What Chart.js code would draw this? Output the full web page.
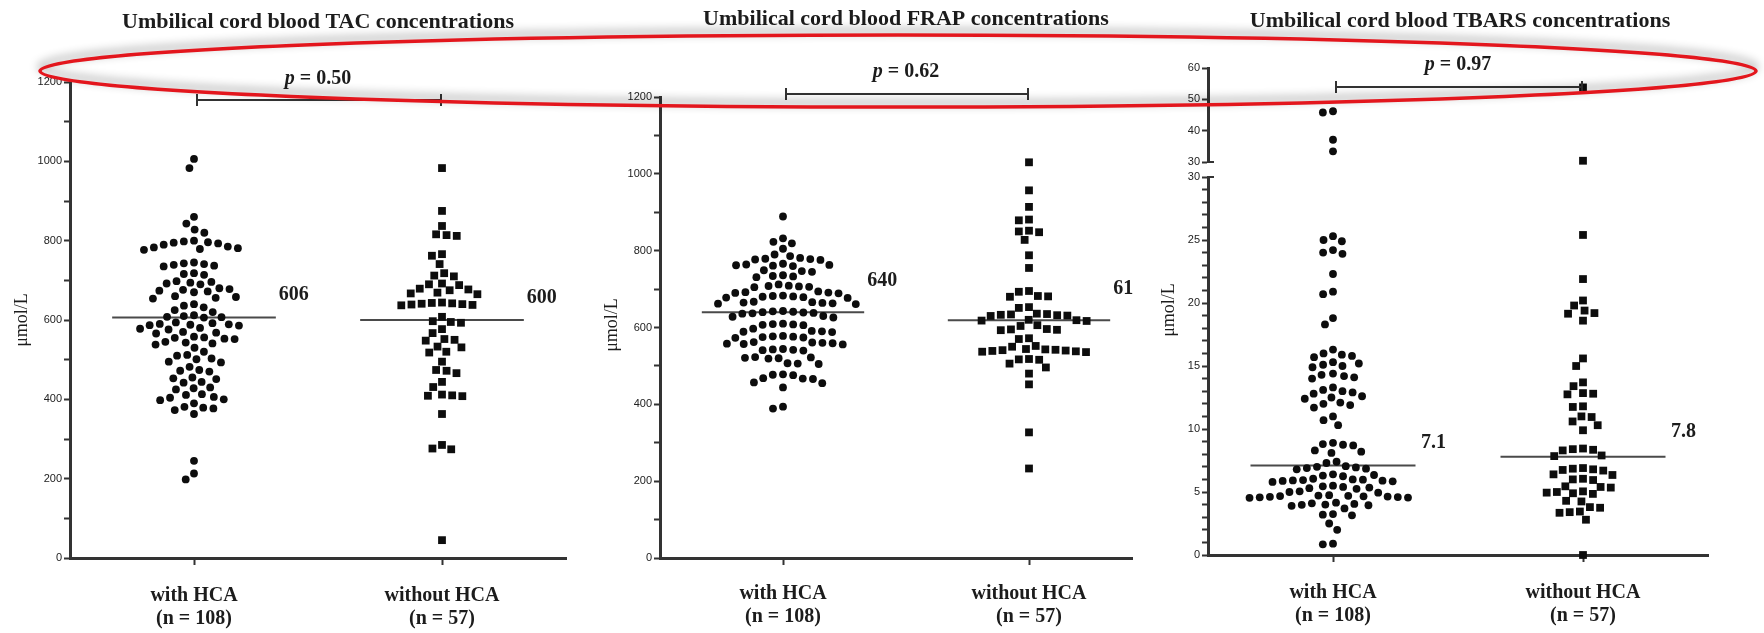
<!DOCTYPE html>
<html><head><meta charset="utf-8">
<script src="https://cdn.jsdelivr.net/npm/chart.js@4.4.1/dist/chart.umd.min.js"></script>
<style>
html,body{margin:0;padding:0;background:#fff;}
#wrap{position:relative;width:1764px;height:633px;overflow:hidden;background:#fff;}
canvas{position:absolute;left:0;top:0;}
#cover{position:absolute;left:1133px;top:0;width:631px;height:633px;background:#fff;}
</style></head><body>
<div id="wrap">
<canvas id="c1" width="1764" height="633"></canvas>
<canvas id="c2" width="1764" height="633"></canvas>
<div id="cover"></div>
<canvas id="c3a" width="1764" height="633"></canvas>
<canvas id="c3b" width="1764" height="633"></canvas>
<canvas id="ov" width="1764" height="633"></canvas>
</div>
<script>
// ---------------- DATA ----------------
const xLabels = [['with HCA', '(n = 108)'], ['without HCA', '(n = 57)']];
const titles = ['Umbilical cord blood TAC concentrations', 'Umbilical cord blood FRAP concentrations', 'Umbilical cord blood TBARS concentrations'];
const pValues = ['0.50', '0.62', '0.97'];
const yTitle = 'μmol/L';

const tacWith = [1006, 983, 860, 843, 828, 820, 800, 798, 796, 795, 793, 790, 785, 783, 781, 779, 777, 745, 743, 741, 739, 737, 735, 718, 716, 714, 698, 696, 694, 692, 690, 680, 678, 676, 674, 672, 670, 660, 658, 656, 654, 640, 636, 632, 625, 620, 612, 610, 608, 607, 606,
  594, 592, 590, 589, 588, 587, 586, 580, 578, 576, 570, 568, 566, 558, 556, 555, 553, 552, 545, 543, 541, 538, 530, 520, 512, 510, 503, 501, 495, 493, 482, 474, 472, 470, 455, 453, 451, 444, 442, 430, 428, 425, 413, 411, 406, 404, 400, 398, 390, 381, 379, 377, 373, 363, 245, 213, 198];
const tacWithout = [983, 875, 837, 816, 814, 812, 766, 762, 741, 718, 712, 710, 692, 690, 688, 679, 677, 675, 669, 667, 665,
  644, 643, 642, 641, 640, 639, 638, 637,
  608, 597, 595, 593, 577, 567, 552, 550, 548, 533, 531, 520, 518, 495, 474, 472, 466, 444, 431, 412, 410, 409, 408, 363, 285, 276, 274, 45];
const tacMedians = [606, 600];

const frapWith = [889, 832, 823, 819, 805, 790, 786, 781, 779, 778, 777, 776, 766, 764, 763, 762, 761, 760, 749, 747, 745, 736, 734, 733, 731, 712, 709, 708, 707, 706, 705, 694, 692, 691, 690, 689, 683, 682, 681, 680, 679, 678, 677, 667, 666, 665, 664, 663, 662, 661,
  643, 642, 641, 640, 639, 638, 637, 636,
  630, 628, 626, 610, 609, 608, 607, 606, 597, 591, 590, 589, 588, 578, 577, 576, 575, 574, 573, 562, 561, 560, 559, 558, 557, 556, 544, 543, 542, 541, 540, 523, 522, 521, 520, 519, 507, 506, 505, 478, 477, 476, 468, 467, 466, 457, 455, 444, 394, 389];
const frapWithout = [1030, 957, 914, 881, 879, 852, 850, 848, 828, 788, 755, 695, 693, 682, 681, 680, 653, 651, 636, 635, 634, 633, 632, 631, 630, 620, 619, 618, 617,
  606, 604, 596, 595, 594, 593, 572, 570, 552, 550, 544, 543, 542, 541, 540, 539, 538, 537, 536, 518, 517, 516, 506, 496, 480, 452, 327, 233];
const frapMedians = [640, 619];

const tbarsWith = [46.2, 45.8, 37.1, 33.4,
  25.3, 25.0, 24.9, 24.2, 24.0, 23.9, 22.3, 20.9, 20.7, 18.8, 18.3, 16.3, 16.0, 15.9, 15.8, 15.7, 15.3, 15.2, 15.1, 15.0, 14.9, 14.4, 14.3, 14.2, 14.1, 14.0, 13.3, 13.1, 13.0, 12.9, 12.8, 12.6, 12.5, 12.4, 12.1, 12.0, 11.9, 11.7, 11.0, 10.7, 10.3, 8.9, 8.8, 8.75, 8.7, 8.3, 8.2, 8.1, 7.4, 7.3,
  7.05, 7.0, 6.95, 6.9, 6.85, 6.8, 6.4, 6.35, 6.3, 6.25, 6.05, 6.0, 5.98, 5.95, 5.92, 5.9, 5.88, 5.85, 5.8, 5.5, 5.45, 5.4, 5.35, 5.3, 5.25, 5.05, 5.0, 4.95, 4.75, 4.72, 4.7, 4.68, 4.66, 4.64, 4.62, 4.6, 4.58, 4.56, 4.54, 4.15, 4.1, 4.05, 4.0, 3.98, 3.95, 3.9, 3.7, 3.25, 3.2, 3.15, 2.5, 2.0, 0.9, 0.85];
const tbarsWithout = [53.8, 30.4, 25.4, 21.9, 20.2, 19.8, 19.4, 19.2, 19.15, 18.6, 15.6, 15.0, 13.7, 13.4, 12.85, 12.8, 12.75, 11.8, 11.75, 11.0, 10.95, 10.6, 10.3, 9.9, 8.45, 8.4, 8.35, 8.3, 7.9, 7.85,
  6.9, 6.85, 6.8, 6.75, 6.7, 6.4, 6.35, 6.05, 6.0, 5.95, 5.45, 5.4, 5.35, 5.05, 5.0, 4.95, 4.9, 4.85, 4.3, 4.25, 3.8, 3.75, 3.45, 3.4, 3.35, 2.8, 0.0];
const tbarsMedians = [7.1, 7.8];
const tbarsBreak = 30;

const concTicks = [0, 100, 200, 300, 400, 500, 600, 700, 800, 900, 1000, 1100, 1200];
const concTickLabels = [0, 200, 400, 600, 800, 1000, 1200];
const tbarsLowTicks = [0, 1, 2, 3, 4, 5, 6, 7, 8, 9, 10, 11, 12, 13, 14, 15, 16, 17, 18, 19, 20, 21, 22, 23, 24, 25, 26, 27, 28, 29, 30];
const tbarsLowLabels = [0, 5, 10, 15, 20, 25, 30];
const tbarsHighTicks = [30, 40, 50, 60];
const tbarsHighLabels = [30, 40, 50, 60];

// ---------------- STYLE ----------------
const W = 1764, H = 633;
const MED_HALF = 0.33;
const INK = '#1c1c1c';
const AXIS = '#333';
const SERIF = '"Liberation Serif", "Times New Roman", serif';

function swarm(pix, spacing) {
  const order = pix.map((y, i) => ({ i, y })).sort((a, b) => a.y - b.y);
  const placed = [];
  const offs = new Array(pix.length).fill(0);
  for (const p of order) {
    const blocked = [];
    for (const q of placed) {
      const dy = Math.abs(p.y - q.y);
      if (dy < spacing) {
        const h = Math.sqrt(spacing * spacing - dy * dy);
        blocked.push([q.x - h, q.x + h]);
      }
    }
    const cands = [0];
    blocked.forEach(([a, b]) => { cands.push(a, b); });
    cands.sort((u, v) => Math.abs(u) - Math.abs(v));
    let x = 0;
    for (const c of cands) {
      if (blocked.every(([a, b]) => c <= a + 1e-6 || c >= b - 1e-6)) { x = c; break; }
    }
    placed.push({ x, y: p.y });
    offs[p.i] = x;
  }
  return offs;
}

function makeAnnot(cfg) {
  return {
    id: 'annot_' + cfg.name,
    afterDatasetsDraw(chart) {
      const ctx = chart.ctx, xs = chart.scales.x, ys = chart.scales.y, ca = chart.chartArea;
      const x0 = xs.getPixelForValue(0), x1 = xs.getPixelForValue(1), cx = (x0 + x1) / 2;
      ctx.save();
      ctx.fillStyle = INK;
      ctx.textBaseline = 'middle';
      if (cfg.title) {
        ctx.font = 'bold 22px ' + SERIF;
        ctx.textAlign = 'center';
        ctx.fillText(cfg.title, cx + (cfg.titleDx || 0), cfg.titleY);
      }
      if (cfg.p) {
        ctx.font = 'italic bold 20px ' + SERIF;
        const w1 = ctx.measureText('p').width;
        ctx.font = 'bold 20px ' + SERIF;
        const rest = ' = ' + cfg.p;
        const w2 = ctx.measureText(rest).width;
        const sx = cx - (w1 + w2) / 2;
        ctx.textAlign = 'left';
        ctx.font = 'italic bold 20px ' + SERIF;
        ctx.fillText('p', sx, cfg.pY);
        ctx.font = 'bold 20px ' + SERIF;
        ctx.fillText(rest, sx + w1, cfg.pY);
        ctx.strokeStyle = AXIS; ctx.lineWidth = 2;
        const bx0 = x0 + 3, bx1 = x1 - 1, by = cfg.bracketY;
        ctx.beginPath();
        ctx.moveTo(bx0, by); ctx.lineTo(bx1, by);
        ctx.moveTo(bx0, by - 6); ctx.lineTo(bx0, by + 6);
        ctx.moveTo(bx1, by - 6); ctx.lineTo(bx1, by + 6);
        ctx.stroke();
      }
      if (cfg.yTitlePos) {
        ctx.save();
        ctx.translate(cfg.yTitlePos[0], cfg.yTitlePos[1]);
        ctx.rotate(-Math.PI / 2);
        ctx.font = '18px ' + SERIF;
        ctx.textAlign = 'center';
        ctx.fillText(yTitle, 0, 0);
        ctx.restore();
      }
      if (cfg.medians) {
        ctx.font = 'bold 20px ' + SERIF;
        ctx.textAlign = 'center';
        cfg.medians.forEach((m, i) => {
          ctx.fillText(String(m), xs.getPixelForValue(i + MED_HALF) + 18, ys.getPixelForValue(m) - cfg.medDy[i]);
        });
      }
      if (cfg.stub != null) {
        ctx.strokeStyle = AXIS; ctx.lineWidth = 2;
        const sy = ys.getPixelForValue(cfg.stub);
        ctx.beginPath(); ctx.moveTo(ca.left, sy); ctx.lineTo(ca.left + 6, sy); ctx.stroke();
      }
      ctx.restore();
    }
  };
}

function makeChart(id, cfg) {
  const datasets = [
    { data: cfg.withVals.map(v => ({ x: 0, y: v })), pointStyle: 'circle', pointRadius: 3.9, pointHoverRadius: 3.9, backgroundColor: '#0d0d0d', borderWidth: 0, clip: false },
    { data: cfg.withoutVals.map(v => ({ x: 1, y: v })), pointStyle: 'rect', pointRadius: 5.5, pointHoverRadius: 5.5, backgroundColor: '#0d0d0d', borderWidth: 0, clip: false }
  ];
  if (cfg.medians) {
    cfg.medians.forEach((m, i) => {
      datasets.push({ type: 'line', data: [{ x: i - MED_HALF, y: m }, { x: i + MED_HALF, y: m }], borderColor: '#4a4a4a', borderWidth: 2, pointRadius: 0, fill: false, clip: false });
    });
  }
  const xH = H - cfg.bottom;
  const chart = new Chart(document.getElementById(id), {
    type: 'scatter',
    data: { datasets },
    options: {
      responsive: false, animation: false, events: [],
      layout: { padding: { left: cfg.left - 50, right: W - cfg.right, top: cfg.top, bottom: cfg.showX ? 0 : H - cfg.bottom } },
      plugins: { legend: { display: false }, tooltip: { enabled: false } },
      scales: {
        x: {
          type: 'linear', min: -0.5, max: 1.5, display: cfg.showX,
          afterBuildTicks: s => { s.ticks = [{ value: 0 }, { value: 1 }]; },
          afterFit: s => { if (cfg.showX) s.height = xH; },
          grid: { drawOnChartArea: false, tickLength: 7, tickWidth: 2, tickColor: AXIS },
          border: { color: AXIS, width: 3 },
          ticks: { autoSkip: false, maxRotation: 0, padding: cfg.xPad, color: INK,
            font: { family: SERIF, size: 20, weight: 'bold', lineHeight: 1.15 },
            callback: v => xLabels[v] }
        },
        y: {
          type: 'linear', min: cfg.ymin, max: cfg.ymax,
          afterBuildTicks: s => { s.ticks = cfg.yTicks.map(v => ({ value: v })); },
          afterFit: s => { s.width = 50; },
          grid: { drawOnChartArea: false, tickLength: 6, tickWidth: 2, tickColor: AXIS },
          border: { color: AXIS, width: 3 },
          ticks: { autoSkip: false, padding: 2, color: '#222',
            font: { family: '"Liberation Sans", Arial, sans-serif', size: 11 },
            callback: v => cfg.yLabels.includes(v) ? String(v) : '' }
        }
      }
    },
    plugins: [makeAnnot(cfg)]
  });
  // beeswarm layout computed from the library's scales
  const xs = chart.scales.x, ys = chart.scales.y;
  const ppu = xs.getPixelForValue(1) - xs.getPixelForValue(0);
  [cfg.withVals, cfg.withoutVals].forEach((vals, k) => {
    const offs = swarm(vals.map(v => ys.getPixelForValue(v)), 10.2);
    chart.data.datasets[k].data = vals.map((v, i) => ({ x: k + offs[i] / ppu, y: v }));
  });
  chart.update('none');
  return chart;
}

makeChart('c1', {
  name: 'tac', withVals: tacWith, withoutVals: tacWithout, medians: tacMedians, medDy: [23, 22],
  left: 70, right: 566, top: 82, bottom: 558, ymin: 0, ymax: 1200, yTicks: concTicks, yLabels: concTickLabels,
  showX: true, xPad: 19, title: titles[0], titleY: 22, p: pValues[0], pY: 79, bracketY: 100, yTitlePos: [22, 320]
});
makeChart('c2', {
  name: 'frap', withVals: frapWith, withoutVals: frapWithout, medians: frapMedians, medDy: [31, 31],
  left: 660, right: 1152, top: 97, bottom: 558, ymin: 0, ymax: 1200, yTicks: concTicks, yLabels: concTickLabels,
  showX: true, xPad: 17, title: titles[1], titleY: 19, p: pValues[1], pY: 72, bracketY: 94, yTitlePos: [612, 325]
});
makeChart('c3a', {
  name: 'tbarsHigh', withVals: tbarsWith.filter(v => v > tbarsBreak), withoutVals: tbarsWithout.filter(v => v > tbarsBreak),
  left: 1208, right: 1708, top: 68, bottom: 162, ymin: 30, ymax: 60, yTicks: tbarsHighTicks, yLabels: tbarsHighLabels,
  showX: false, xPad: 0, title: titles[2], titleY: 21, titleDx: 2, p: pValues[2], pY: 65, bracketY: 87, stub: 30
});
makeChart('c3b', {
  name: 'tbarsLow', withVals: tbarsWith.filter(v => v <= tbarsBreak), withoutVals: tbarsWithout.filter(v => v <= tbarsBreak), medians: tbarsMedians, medDy: [23, 25],
  left: 1208, right: 1708, top: 177, bottom: 555, ymin: 0, ymax: 30, yTicks: tbarsLowTicks, yLabels: tbarsLowLabels,
  showX: true, xPad: 19, yTitlePos: [1169, 310], stub: 30
});

// red highlight ellipse drawn over the figure
(function () {
  const ctx = document.getElementById('ov').getContext('2d');
  ctx.save();
  ctx.shadowColor = 'rgba(0,0,0,0.45)';
  ctx.shadowBlur = 10;
  ctx.shadowOffsetY = -4;
  ctx.strokeStyle = '#e3161d';
  ctx.lineWidth = 3.5;
  ctx.beginPath();
  ctx.ellipse(898, 71, 858, 36, 0, 0, Math.PI * 2);
  ctx.stroke();
  ctx.restore();
})();
</script>
</body></html>
